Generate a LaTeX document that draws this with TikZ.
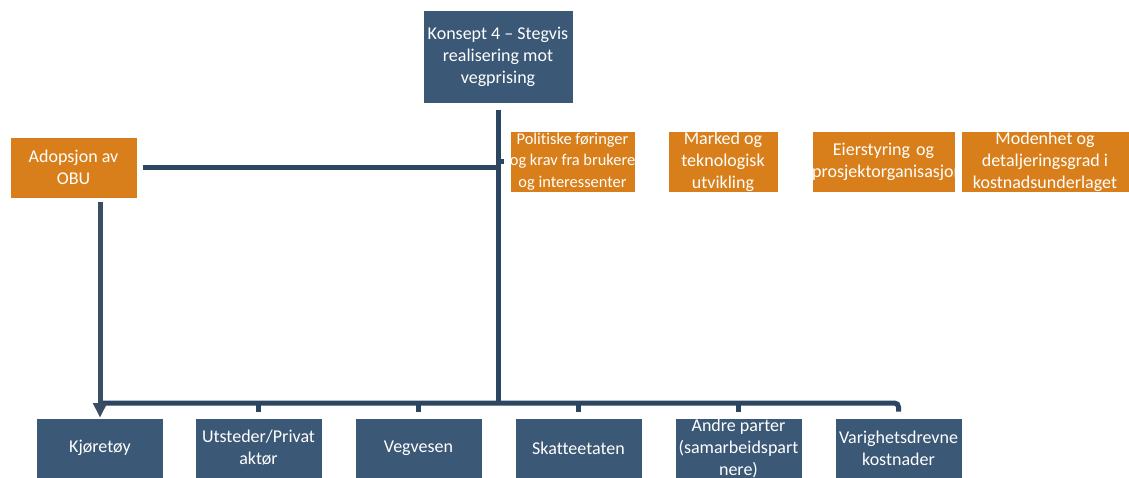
\documentclass[tikz,border=0pt]{standalone}
\usepackage{fontspec}
\setmainfont[Ligatures=NoCommon]{Carlito}
\usetikzlibrary{arrows.meta,positioning}
\definecolor{boxblue}{RGB}{59,88,118}
\definecolor{lineblue}{RGB}{44,69,96}
\definecolor{boxorange}{RGB}{216,127,27}

\tikzset{
  bbox/.style={draw=white, line width=0.4pt, fill=boxblue, text=white, align=center,
    inner sep=0pt, minimum width=95.25pt, minimum height=45pt,
    font=\fontsize{13.5}{16.5}\selectfont},
  obox/.style={bbox, fill=boxorange, minimum height=45.75pt},
  conn/.style={draw=lineblue, line width=3.75pt},
}

\begin{document}
\begin{tikzpicture}[x=0.75pt,y=-0.75pt,>=Stealth]
\useasboundingbox (0,0) rectangle (1129,478);
\node[bbox, minimum width=112.5pt, minimum height=69.75pt] (konsept) at (498,56.5)
  {Konsept 4 – Stegvis\\realisering mot\\vegprising};
\node[obox] (adopsjon) at (73.5,167.5) {Adopsjon av\\OBU};
\node[obox, minimum width=89.25pt, font=\fontsize{12.3}{16}\selectfont] (polit) at (572.5,161.5)
  {Politiske føringer\\og krav fra brukere\\og interessenter};
\node[obox, minimum width=82.5pt] (marked) at (723,161.5) {Marked og\\teknologisk\\utvikling};
\begin{scope}
\clip (811.5,130.5) rectangle (955.5,192.5);
\node[obox, text width=107pt] (eier) at (883.5,161.5) {Eierstyring og\\prosjektorganisasjon};
\end{scope}
\node[obox, minimum width=126pt] (moden) at (1045,161.5)
  {Modenhet og\\detaljeringsgrad i\\kostnadsunderlaget};
% nederste rad
\node[bbox] (kjore) at (100,448) {Kjøretøy};
\node[bbox] (utsted) at (258.5,448) {Utsteder/Privat\\aktør};
\node[bbox] (vegves) at (418.5,448) {Vegvesen};
\node[bbox] (skatt) at (578.5,448) {Skatteetaten};
\node[bbox] (andre) at (738.5,448) {Andre parter\\(samarbeidspart\\nere)};
\node[bbox] (varig) at (898.5,448) {Varighetsdrevne\\kostnader};
\coordinate (bus) at (0,403);

\draw[conn] ([yshift=-5pt]konsept.south) -- (konsept.south |- bus);
\draw[conn] ([xshift=4.5pt]adopsjon.east) -- (adopsjon.east -| konsept.south);
\draw[conn] (konsept.south |- polit.west) -- ([xshift=-4.5pt]polit.west);
\draw[conn, rounded corners=3pt] (kjore.north |- bus) -- (varig.north |- bus)
  -- ([yshift=4.5pt]varig.north);
\foreach \n in {utsted,vegves,skatt,andre}
  \draw[conn] (\n.north |- bus) -- ([yshift=4.5pt]\n.north);
\draw[conn, draw=lineblue!85!gray, -{Triangle[length=11pt,width=10pt]}]
  ([yshift=-3pt]kjore.north |- adopsjon.south) -- (kjore.north);
\end{tikzpicture}
\end{document}
